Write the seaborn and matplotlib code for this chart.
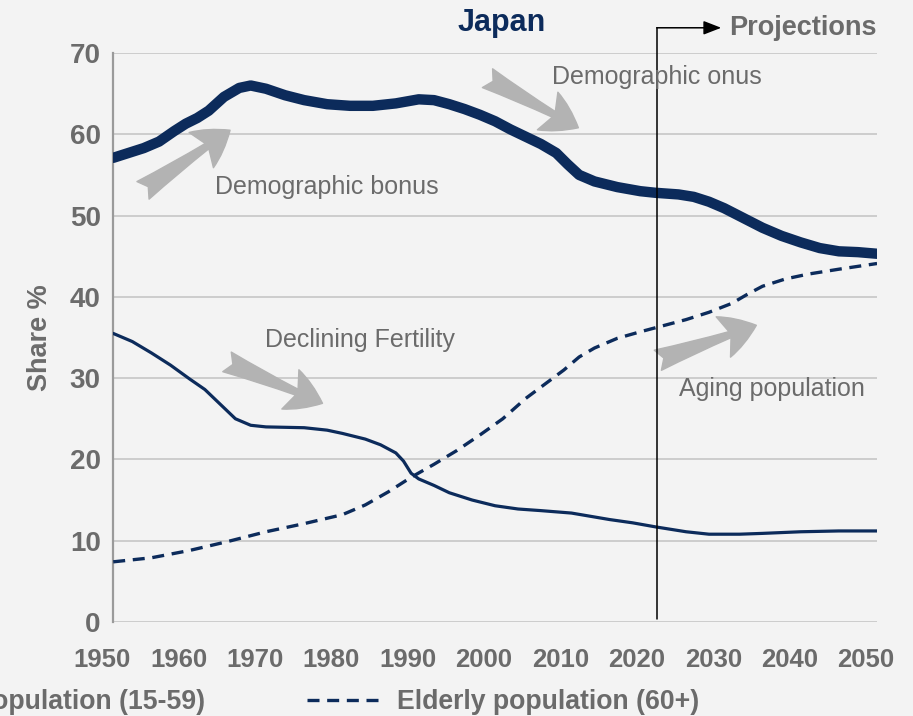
import pandas as pd
import seaborn as sns
import matplotlib.pyplot as plt
import matplotlib.transforms as mtransforms

# values
working_years = [1950, 1952, 1954, 1956, 1958, 1959.5, 1961, 1962.5, 1964.5, 1966.5,
                 1968, 1970, 1972.5, 1975, 1978, 1981, 1984, 1987, 1990, 1992, 1994,
                 1996, 1998, 2000, 2002, 2004, 2006, 2008, 2009.5, 2011, 2013, 2016,
                 2019, 2021, 2024, 2026, 2028, 2030, 2032.5, 2035, 2037.5, 2040,
                 2042.5, 2045, 2047.5, 2050]
working_share = [57.1, 57.7, 58.3, 59.1, 60.4, 61.3, 62.0, 62.9, 64.6, 65.7,
                 66.0, 65.6, 64.8, 64.2, 63.7, 63.5, 63.5, 63.8, 64.3, 64.2, 63.7,
                 63.1, 62.4, 61.6, 60.6, 59.7, 58.8, 57.7, 56.3, 55.0, 54.2, 53.5,
                 53.0, 52.8, 52.6, 52.3, 51.7, 50.9, 49.7, 48.5, 47.5, 46.7,
                 46.0, 45.6, 45.5, 45.3]

young_years = [1950, 1952.5, 1955, 1957.5, 1960, 1962, 1964, 1966, 1968, 1970, 1975,
               1978, 1980, 1983, 1985, 1987, 1988, 1989, 1990, 1992, 1994, 1997,
               2000, 2003, 2006, 2010, 2015, 2018, 2021, 2025, 2028, 2032, 2035,
               2040, 2045, 2050]
young_share = [35.5, 34.5, 33.1, 31.6, 29.9, 28.6, 26.8, 25.0, 24.2, 24.0, 23.9,
               23.6, 23.2, 22.5, 21.8, 20.8, 19.8, 18.3, 17.6, 16.8, 15.9, 15.0,
               14.3, 13.9, 13.7, 13.4, 12.6, 12.2, 11.7, 11.1, 10.8, 10.8, 10.9,
               11.1, 11.2, 11.2]

elderly_years = [1950, 1955, 1960, 1965, 1970, 1975, 1980, 1983, 1986, 1989, 1992,
                 1995, 1998, 2001, 2004, 2007, 2009, 2011, 2013, 2016, 2019, 2021,
                 2025, 2028, 2031, 2033, 2035, 2038, 2041, 2045, 2050]
elderly_share = [7.4, 7.9, 8.8, 9.9, 11.1, 12.1, 13.2, 14.4, 16.0, 17.8, 19.4,
                 21.1, 23.0, 25.0, 27.5, 29.6, 31.0, 32.6, 33.7, 34.9, 35.7, 36.2,
                 37.2, 38.1, 39.2, 40.3, 41.3, 42.2, 42.8, 43.4, 44.1]

projection_start = 2021.2
y_ticks = [0, 10, 20, 30, 40, 50, 60, 70]
x_ticks = [1950, 1960, 1970, 1980, 1990, 2000, 2010, 2020, 2030, 2040, 2050]

navy = '#0c2b5b'
text_gray = '#6b6b6b'
arrow_gray = '#b3b3b3'
bg = '#f3f3f3'

sns.set_theme(style='white')
plt.rcParams['font.family'] = ['Liberation Sans', 'DejaVu Sans']

fig = plt.figure(figsize=(9.13, 7.16), dpi=100, facecolor=bg)
ax = fig.add_axes([0.124, 0.1313, 0.8366, 0.7947])
ax.set_facecolor(bg)

young_df = pd.DataFrame({'year': young_years, 'share': young_share})
working_df = pd.DataFrame({'year': working_years, 'share': working_share})
elderly_df = pd.DataFrame({'year': elderly_years, 'share': elderly_share})

sns.lineplot(data=young_df, x='year', y='share', ax=ax, color=navy, linewidth=2.3,
             label='Young population (0-14)', zorder=3)
sns.lineplot(data=working_df, x='year', y='share', ax=ax, color=navy, linewidth=7.5,
             label='Working-age population (15-59)', zorder=3,
             solid_capstyle='round', solid_joinstyle='round')
sns.lineplot(data=elderly_df, x='year', y='share', ax=ax, color=navy, linewidth=2.4,
             linestyle=(0, (3.6, 2.3)), label='Elderly population (60+)', zorder=3)

ax.set_xlim(1950, 2050)
ax.set_ylim(0, 70)
ax.set_xticks(x_ticks)
ax.set_yticks(y_ticks)
ax.yaxis.grid(True, color='#c9c9c9', linewidth=1.3)
ax.xaxis.grid(False)
for side in ['top', 'right', 'bottom']:
  ax.spines[side].set_visible(False)
ax.spines['left'].set_color('#9a9a9a')
ax.spines['left'].set_linewidth(1.6)
ax.tick_params(axis='y', length=0, pad=9, labelcolor=text_gray)
ax.tick_params(axis='x', length=0, pad=19, labelcolor=text_gray)
shift = mtransforms.ScaledTranslation(-0.11, 0, fig.dpi_scale_trans)
for lab in ax.get_xticklabels():
  lab.set_fontsize(18.5)
  lab.set_fontweight('bold')
  lab.set_transform(lab.get_transform() + shift)
for lab in ax.get_yticklabels():
  lab.set_fontsize(20)
  lab.set_fontweight('bold')
ax.set_xlabel('')
ax.set_ylabel('Share %', fontsize=19.5, fontweight='bold', color=text_gray, labelpad=12)

ax.text(0.508, 1.052, 'Japan', transform=ax.transAxes, ha='center', va='center',
        fontsize=22, fontweight='bold', color=navy)

# projections marker
ax.plot([projection_start, projection_start], [0.4, 73.1], color='black',
        linewidth=1.1, clip_on=False, zorder=4)
ax.annotate('', xy=(2029.6, 73.1), xytext=(projection_start - 0.05, 73.1),
            arrowprops=dict(arrowstyle='-|>,head_length=0.9,head_width=0.35',
                            color='black', linewidth=1.1, shrinkA=0, shrinkB=0),
            annotation_clip=False)
ax.text(2030.6, 73.1, 'Projections', ha='left', va='center', fontsize=19.5,
        fontweight='bold', color=text_gray, clip_on=False)

# gray annotation arrows
arrow_style = 'fancy,head_length=0.9,head_width=1.1,tail_width=0.55'
arrows = [((1953.9, 53.1), (1965.3, 60.5)),
          ((1999.0, 66.9), (2010.9, 60.8)),
          ((1964.9, 32.0), (1977.4, 26.9)),
          ((2021.3, 32.2), (2034.2, 36.5))]
for tail, head in arrows:
  ax.annotate('', xy=head, xytext=tail,
              arrowprops=dict(arrowstyle=arrow_style, color=arrow_gray,
                              shrinkA=0, shrinkB=0, mutation_scale=28),
              zorder=2)

notes = [(1977.9, 53.5, 'Demographic bonus'),
         (2021.2, 67.1, 'Demographic onus'),
         (1982.3, 34.7, 'Declining Fertility'),
         (2036.3, 28.7, 'Aging population')]
for x, y, s in notes:
  ax.text(x, y, s, ha='center', va='center', fontsize=18, color=text_gray, zorder=5)

# legend sits under the axis and runs off the left edge, as in the source
handles, labels = ax.get_legend_handles_labels()
ax.legend_.remove()
fig.legend(handles[1:], labels[1:], loc='center right', bbox_to_anchor=(0.781, 0.019),
           ncol=2, frameon=False, handlelength=2.7, handletextpad=0.7,
           columnspacing=3.8, borderpad=0, labelcolor=text_gray,
           prop={'weight': 'bold', 'size': 19.2})
for h in fig.legends[0].legend_handles:
  h.set_linewidth(2.4)

fig.savefig('out.png', dpi=100, facecolor=bg)
